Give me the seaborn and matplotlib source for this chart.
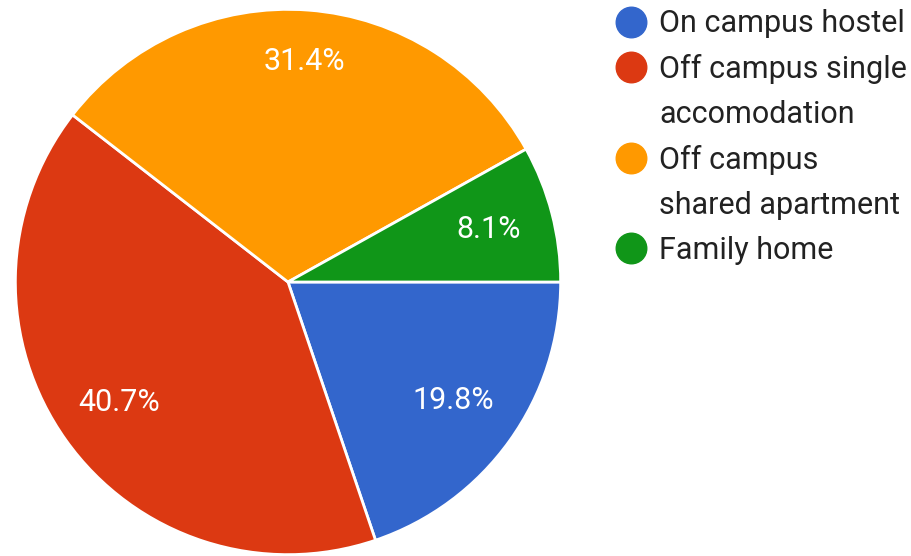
import matplotlib
matplotlib.use("Agg")
import matplotlib.pyplot as plt
from matplotlib.lines import Line2D
import numpy as np
import seaborn as sns

categories = ["On campus hostel", "Off campus single\naccomodation",
              "Off campus\nshared apartment", "Family home"]
shares = [19.8, 40.7, 31.4, 8.1]
colors = ["#3366cc", "#dc3912", "#ff9900", "#109618"]

sns.set_theme(style="white")
plt.rcParams["font.family"] = ["Roboto", "DejaVu Sans"]

fig = plt.figure(figsize=(9.12, 5.56), dpi=100)
ax = fig.add_axes([14 / 912, 0.0, 548 / 912, 548 / 556])

wedges, texts, autotexts = ax.pie(
    shares, colors=colors, startangle=0, counterclock=False,
    autopct="%1.1f%%", pctdistance=0.75,
    wedgeprops=dict(edgecolor="white", linewidth=2),
    textprops=dict(color="white", fontsize=22),
)

# radial placement of each percentage label inside its wedge
label_dist = [0.745, 0.76, 0.81, 0.76]
for w, t, d in zip(wedges, autotexts, label_dist):
    mid = np.deg2rad((w.theta1 + w.theta2) / 2)
    t.set_position((d * np.cos(mid), d * np.sin(mid)))

ax.set_xlim(-1.005, 1.005)
ax.set_ylim(-1.005, 1.005)
ax.set_aspect("equal")
ax.axis("off")

# legend: one row per text line, marker only on the first line of each entry
rows, row_handles = [], []
for name, c in zip(categories, colors):
    for i, line in enumerate(name.split("\n")):
        rows.append(line)
        if i == 0:
            row_handles.append(Line2D([0], [0], marker="o", linestyle="none",
                                      markersize=22, markerfacecolor=c,
                                      markeredgecolor=c))
        else:
            row_handles.append(Line2D([0], [0], linestyle="none", marker="none"))

fig.legend(row_handles, rows, loc="upper left",
           bbox_to_anchor=(604 / 912, 1 + 3 / 556), frameon=False,
           fontsize=22, labelcolor="#222222", handletextpad=0.4,
           handlelength=1.0, labelspacing=0.52, borderaxespad=0)

fig.savefig("out.png", dpi=100, facecolor="white")
